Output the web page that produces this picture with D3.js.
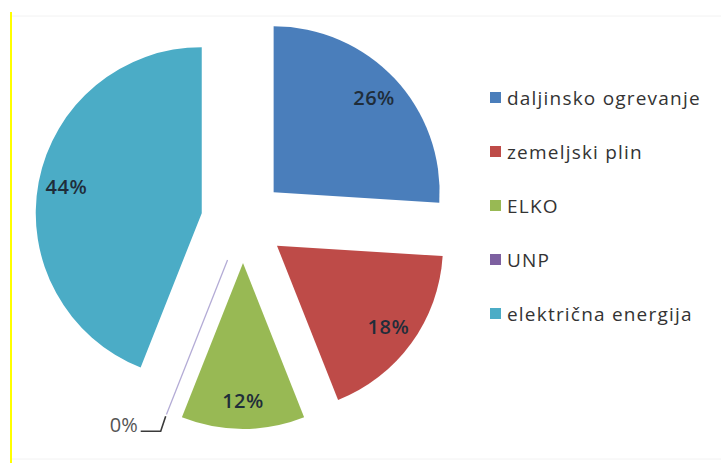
<html>

<head>
    <meta charset="utf-8" />
    <script src="https://cdn.jsdelivr.net/npm/d3@7"></script>
</head>

<body style="margin:0;background:#fff;">
    <script>
        var categories = ['daljinsko ogrevanje', 'zemeljski plin', 'ELKO', 'UNP', 'električna energija'];
        var values = [26, 18, 12, 0, 44];
        var colors = ['#4a7ebb', '#be4b48', '#98b954', '#7d60a0', '#4bacc6'];

        var width = 721;
        var height = 463;
        var center = { x: 243, y: 221 };
        var radius = 166;
        var explode = 42;

        var svg = d3.select('body')
            .append('svg')
            .attr('width', width)
            .attr('height', height)
            .style('display', 'block');

        // frame bits from the screenshot
        svg.append('line')
            .attr('x1', 12).attr('x2', width).attr('y1', 16).attr('y2', 16)
            .attr('stroke', '#f2f2f2');
        svg.append('line')
            .attr('x1', 12).attr('x2', width).attr('y1', 459).attr('y2', 459)
            .attr('stroke', '#f2f2f2');
        svg.append('line')
            .attr('x1', 11).attr('x2', 11).attr('y1', 12).attr('y2', height)
            .attr('stroke', '#ffff00')
            .attr('stroke-width', 2);

        var pie = d3.pie().sort(null).value(function (d) { return d; });
        var arcs = pie(values);
        var arc = d3.arc().innerRadius(0).outerRadius(radius);

        function offset(d) {
            var a = (d.startAngle + d.endAngle) / 2;
            return [Math.sin(a) * explode, -Math.cos(a) * explode];
        }

        var chart = svg.append('g')
            .attr('transform', 'translate(' + center.x + ',' + center.y + ')');

        var slices = chart.selectAll('g.slice')
            .data(arcs)
            .enter()
            .append('g')
            .attr('class', 'slice')
            .attr('transform', function (d) {
                var o = offset(d);
                return 'translate(' + o[0] + ',' + o[1] + ')';
            });

        slices.append('path')
            .attr('d', arc)
            .attr('fill', function (d, i) { return colors[i]; })
            .attr('stroke', function (d, i) { return d.value === 0 ? '#b4acd6' : 'none'; })
            .attr('stroke-width', 1.3);

        var labelArc = d3.arc().innerRadius(radius * 0.83).outerRadius(radius * 0.83);

        slices.filter(function (d) { return d.value > 0; })
            .append('text')
            .attr('transform', function (d) {
                var c = labelArc.centroid(d);
                return 'translate(' + c[0] + ',' + c[1] + ')';
            })
            .attr('text-anchor', 'middle')
            .attr('dy', '0.35em')
            .attr('font-family', 'Open Sans, sans-serif')
            .attr('font-size', 20)
            .attr('font-weight', 600)
            .attr('letter-spacing', 0.5)
            .attr('fill', '#1f2d3a')
            .text(function (d) { return d.value + '%'; });

        // zero slice: label with leader line
        var zero = slices.filter(function (d) { return d.value === 0; });
        zero.each(function (d) {
            var a = d.startAngle;
            var p0 = [Math.sin(a) * (radius + 2), -Math.cos(a) * (radius + 2)];
            var p1 = [p0[0] - 5, p0[1] + 15];
            var p2 = [p1[0] - 20, p1[1]];
            var g = d3.select(this);
            g.append('polyline')
                .attr('points', [p0, p1, p2].map(function (p) { return p.join(','); }).join(' '))
                .attr('fill', 'none')
                .attr('stroke', '#3a3a3a')
                .attr('stroke-width', 1.6);
            g.append('text')
                .attr('x', p2[0] - 3)
                .attr('y', p2[1])
                .attr('dy', '0.05em')
                .attr('text-anchor', 'end')
                .attr('font-family', 'Open Sans, sans-serif')
                .attr('font-size', 20)
                .attr('fill', '#555')
                .text(d.value + '%');
        });

        // legend
        var legendY = d3.scalePoint().domain(categories).range([98, 314]);
        var legend = svg.selectAll('g.legend')
            .data(categories)
            .enter()
            .append('g')
            .attr('class', 'legend')
            .attr('transform', function (d) { return 'translate(490,' + legendY(d) + ')'; });
        legend.append('rect')
            .attr('x', 0).attr('y', -6)
            .attr('width', 11).attr('height', 11)
            .attr('fill', function (d, i) { return colors[i]; });
        legend.append('text')
            .attr('x', 17)
            .attr('dy', '0.35em')
            .attr('font-family', 'Open Sans, sans-serif')
            .attr('font-size', 19)
            .attr('letter-spacing', 1.2)
            .attr('fill', '#333')
            .text(function (d) { return d; });
    </script>
</body>

</html>
